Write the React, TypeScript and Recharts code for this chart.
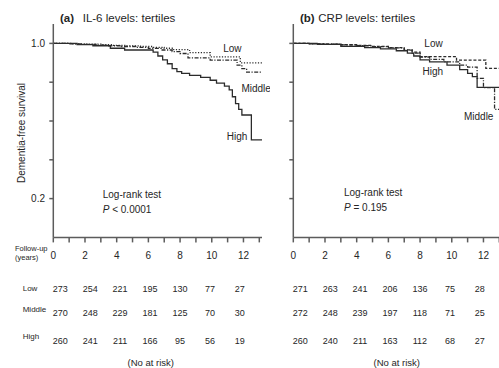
import React from 'react';
import { LineChart, Line, XAxis, YAxis, ReferenceDot } from 'recharts';

// ---------- data ----------
const yearTicks = [0, 1, 2, 3, 4, 5, 6, 7, 8, 9, 10, 11, 12, 13];
const riskYears = [0, 2, 4, 6, 8, 10, 12];
const survivalTicks = [0.2, 0.4, 0.6, 0.8, 1.0];
const survivalLabels = ['0.2', '', '', '', '1.0'];
const riskRowNames = ['Low', 'Middle', 'High'];

// (a) IL-6 tertiles
const il6LowTime = [0, 1.2, 2.1, 3.0, 3.8, 4.6, 5.5, 6.3, 7.0, 7.6, 8.6, 9.9, 11.8, 13.17];
const il6LowSurv = [1, 0.998, 0.996, 0.993, 0.99, 0.987, 0.984, 0.98, 0.975, 0.968, 0.952, 0.931, 0.9, 0.9];
const il6MidTime = [0, 1.0, 1.8, 2.7, 3.5, 4.3, 5.2, 6.0, 6.8, 7.5, 8.0, 8.5, 9.9, 11.6, 11.9, 12.2, 13.17];
const il6MidSurv = [1, 0.998, 0.995, 0.991, 0.988, 0.984, 0.979, 0.974, 0.966, 0.958, 0.948, 0.925, 0.914, 0.888, 0.87, 0.852, 0.852];
const il6HighTime = [0, 1.5, 2.5, 3.6, 4.5, 6.3, 6.6, 6.9, 7.2, 7.5, 7.8, 8.1, 8.6, 9.3, 9.9, 10.3, 10.8, 11.1, 11.3, 11.5, 11.7, 11.9, 12.5, 13.17];
const il6HighSurv = [1, 0.994, 0.988, 0.975, 0.966, 0.955, 0.935, 0.915, 0.895, 0.87, 0.855, 0.845, 0.835, 0.825, 0.81, 0.795, 0.78, 0.76, 0.725, 0.69, 0.66, 0.631, 0.503, 0.503];

// (b) CRP tertiles
const crpLowTime = [0, 1.0, 2.0, 3.0, 4.0, 5.0, 6.0, 7.0, 7.5, 8.0, 10.3, 12.15, 13.17];
const crpLowSurv = [1, 0.998, 0.996, 0.993, 0.99, 0.985, 0.978, 0.967, 0.955, 0.932, 0.914, 0.871, 0.871];
const crpMidTime = [0, 1.0, 2.0, 3.0, 4.0, 5.0, 6.0, 7.0, 7.5, 8.0, 8.6, 9.5, 10.5, 11.0, 11.6, 12.0, 12.7, 13.17];
const crpMidSurv = [1, 0.998, 0.996, 0.992, 0.988, 0.983, 0.977, 0.965, 0.95, 0.93, 0.918, 0.905, 0.888, 0.878, 0.82, 0.772, 0.66, 0.66];
const crpHighTime = [0, 1.5, 3.0, 4.5, 5.5, 6.5, 7.2, 7.6, 8.0, 8.6, 9.7, 10.5, 11.0, 11.3, 11.6, 13.17];
const crpHighSurv = [1, 0.995, 0.985, 0.978, 0.972, 0.962, 0.95, 0.935, 0.915, 0.905, 0.888, 0.865, 0.846, 0.829, 0.773, 0.773];

// numbers at risk
const il6RiskLow = [273, 254, 221, 195, 130, 77, 27];
const il6RiskMiddle = [270, 248, 229, 181, 125, 70, 30];
const il6RiskHigh = [260, 241, 211, 166, 95, 56, 19];
const crpRiskLow = [271, 263, 241, 206, 136, 75, 28];
const crpRiskMiddle = [272, 248, 239, 197, 118, 71, 25];
const crpRiskHigh = [260, 240, 211, 163, 112, 68, 27];

// ---------- styles ----------
const FONT = '"Liberation Sans", Arial, Helvetica, sans-serif';
const AXIS = '#5c5c5c';
const INK = '#262626';
const LINE = '#2b2b2b';
const DOTTED = '1.2 1.6';
const DASHDOT = '4 1.5 1.2 1.5';
const DASHED = '3 1.8';

type Pt = { t: number; s: number };
const toPts = (t: number[], s: number[]): Pt[] => t.map((v, i) => ({ t: v, s: s[i] }));
const riskPts = (row: number[]) => riskYears.map((y, i) => ({ t: y, n: row[i], s: 0.5 }));

const X_DOMAIN: [number, number] = [0, 13.17];
const RISK_DOMAIN: [number, number] = [-0.468, 13.484];

const textLabel = (text: string, anchor: 'start' | 'middle', size = 10) => (p: any) => (
  <text
    x={p.viewBox.x}
    y={p.viewBox.y}
    textAnchor={anchor}
    dominantBaseline="central"
    fontSize={size}
    fill={INK}
    fontFamily={FONT}
  >
    {text}
  </text>
);

const pLabel = (rest: string) => (p: any) => (
  <text x={p.viewBox.x} y={p.viewBox.y} dominantBaseline="central" fontSize={10} fill={INK} fontFamily={FONT}>
    <tspan fontStyle="italic">P</tspan>
    <tspan>{rest}</tspan>
  </text>
);

type Series = { pts: Pt[]; dash?: string };
type Note = { t: number; s: number; text: string };

function Panel(props: {
  left: number;
  series: Series[];
  risk: number[][];
  curveNotes: Note[];
  logT: number;
  logS: number;
  pS: number;
  pRest: string;
  showYLabels: boolean;
}) {
  const { left, series, risk, curveNotes, logT, logS, pS, pRest, showYLabels } = props;
  const riskFmt = (row: number[]) => (v: number) => {
    const i = riskYears.indexOf(v);
    return i >= 0 ? String(row[i]) : '';
  };
  return (
    <div style={{ position: 'absolute', left, top: 0 }}>
      <LineChart width={270} height={368} margin={{ top: 24, right: 8, bottom: 18.3, left: 8.3 }}>
        <XAxis
          xAxisId="main"
          dataKey="t"
          type="number"
          domain={X_DOMAIN}
          allowDataOverflow
          ticks={yearTicks}
          interval={0}
          tickFormatter={(v: number) => (v % 2 === 0 ? String(v) : '')}
          height={40}
          tickSize={5}
          tickMargin={9.3}
          stroke={AXIS}
          strokeWidth={1.5}
          tick={{ fontSize: 10, fill: INK, fontFamily: FONT }}
        />
        {risk.map((row, k) => (
          <XAxis
            key={'ax' + k}
            xAxisId={'risk' + k}
            dataKey="t"
            type="number"
            domain={RISK_DOMAIN}
            allowDataOverflow
            ticks={riskYears}
            interval={0}
            tickFormatter={riskFmt(row)}
            height={k === 0 ? 24 : k === 1 ? 28.3 : 20}
            tickSize={0}
            tickMargin={k === 1 ? 7.85 : 8.15}
            axisLine={false}
            tickLine={false}
            tick={{ fontSize: 9, fill: INK, fontFamily: FONT }}
          />
        ))}
        <YAxis
          yAxisId="s"
          type="number"
          domain={[0, 1.1]}
          allowDataOverflow
          ticks={survivalTicks}
          interval={0}
          tickFormatter={(v: number) => (showYLabels ? survivalLabels[survivalTicks.indexOf(v)] ?? '' : '')}
          width={45}
          tickSize={4}
          tickMargin={4.3}
          stroke={AXIS}
          strokeWidth={1.5}
          tick={{ fontSize: 10, fill: INK, fontFamily: FONT }}
        />
        {risk.map((row, k) => (
          <Line
            key={'rl' + k}
            xAxisId={'risk' + k}
            yAxisId="s"
            data={riskPts(row)}
            dataKey="s"
            stroke="none"
            dot={false}
            activeDot={false}
            legendType="none"
            isAnimationActive={false}
          />
        ))}
        {series.map((s, i) => (
          <Line
            key={i}
            xAxisId="main"
            yAxisId="s"
            data={s.pts}
            dataKey="s"
            type="stepAfter"
            stroke={LINE}
            strokeWidth={1.3}
            strokeDasharray={s.dash}
            dot={false}
            activeDot={false}
            isAnimationActive={false}
          />
        ))}
        {curveNotes.map((n, i) => (
          <ReferenceDot
            key={'n' + i}
            xAxisId="main"
            yAxisId="s"
            x={n.t}
            y={n.s}
            r={0}
            fill="none"
            stroke="none"
            ifOverflow="visible"
            label={textLabel(n.text, 'middle')}
          />
        ))}
        <ReferenceDot xAxisId="main" yAxisId="s" x={logT} y={logS} r={0} fill="none" stroke="none" ifOverflow="visible" label={textLabel('Log-rank test', 'start')} />
        <ReferenceDot xAxisId="main" yAxisId="s" x={logT} y={pS} r={0} fill="none" stroke="none" ifOverflow="visible" label={pLabel(pRest)} />
      </LineChart>
    </div>
  );
}

export default function App() {
  const il6Series: Series[] = [
    { pts: toPts(il6LowTime, il6LowSurv), dash: DOTTED },
    { pts: toPts(il6MidTime, il6MidSurv), dash: DASHDOT },
    { pts: toPts(il6HighTime, il6HighSurv) },
  ];
  const crpSeries: Series[] = [
    { pts: toPts(crpLowTime, crpLowSurv), dash: DASHED },
    { pts: toPts(crpMidTime, crpMidSurv), dash: DASHDOT },
    { pts: toPts(crpHighTime, crpHighSurv) },
  ];
  const rowY = [290.9, 311.9, 338.9];
  return (
    <div
      style={{
        position: 'absolute',
        left: 0,
        top: 0,
        width: 499,
        height: 368,
        overflow: 'hidden',
        background: '#fff',
        fontFamily: FONT,
      }}
    >
      <Panel
        left={0}
        series={il6Series}
        risk={[il6RiskLow, il6RiskMiddle, il6RiskHigh]}
        curveNotes={[
          { t: 11.3, s: 0.976, text: 'Low' },
          { t: 12.8, s: 0.765, text: 'Middle' },
          { t: 11.6, s: 0.52, text: 'High' },
        ]}
        logT={3.12}
        logS={0.22}
        pS={0.146}
        pRest=" < 0.0001"
        showYLabels
      />
      <Panel
        left={240}
        series={crpSeries}
        risk={[crpRiskLow, crpRiskMiddle, crpRiskHigh]}
        curveNotes={[
          { t: 8.85, s: 1.0, text: 'Low' },
          { t: 8.8, s: 0.854, text: 'High' },
          { t: 11.7, s: 0.622, text: 'Middle' },
        ]}
        logT={3.2}
        logS={0.231}
        pS={0.156}
        pRest=" = 0.195"
        showYLabels={false}
      />
      <svg
        width={499}
        height={368}
        style={{ position: 'absolute', left: 0, top: 0, pointerEvents: 'none' }}
        fontFamily={FONT}
      >
        <text x={60} y={22.2} fontSize={11.5} fontWeight="bold" fill={INK}>(a)</text>
        <text x={82.7} y={22.2} fontSize={11.5} fill={INK}>IL-6 levels: tertiles</text>
        <text x={300} y={22.2} fontSize={11.5} fontWeight="bold" fill={INK}>(b)</text>
        <text x={318.3} y={22.2} fontSize={11.5} fill={INK}>CRP levels: tertiles</text>
        <text
          transform="translate(21,133) rotate(-90)"
          textAnchor="middle"
          dominantBaseline="central"
          fontSize={10}
          fill={INK}
        >
          Dementia-free survival
        </text>
        <text x={15} y={251} fontSize={7.5} fill={INK}>Follow-up</text>
        <text x={15} y={260.4} fontSize={7.5} fill={INK}>(years)</text>
        {riskRowNames.map((n, i) => (
          <text key={n} x={22.7} y={rowY[i]} fontSize={8} fill={INK}>{n}</text>
        ))}
        <text x={150.8} y={365.9} textAnchor="middle" fontSize={9.5} fill={INK}>(No at risk)</text>
        <text x={396.7} y={365.9} textAnchor="middle" fontSize={9.5} fill={INK}>(No at risk)</text>
      </svg>
    </div>
  );
}
